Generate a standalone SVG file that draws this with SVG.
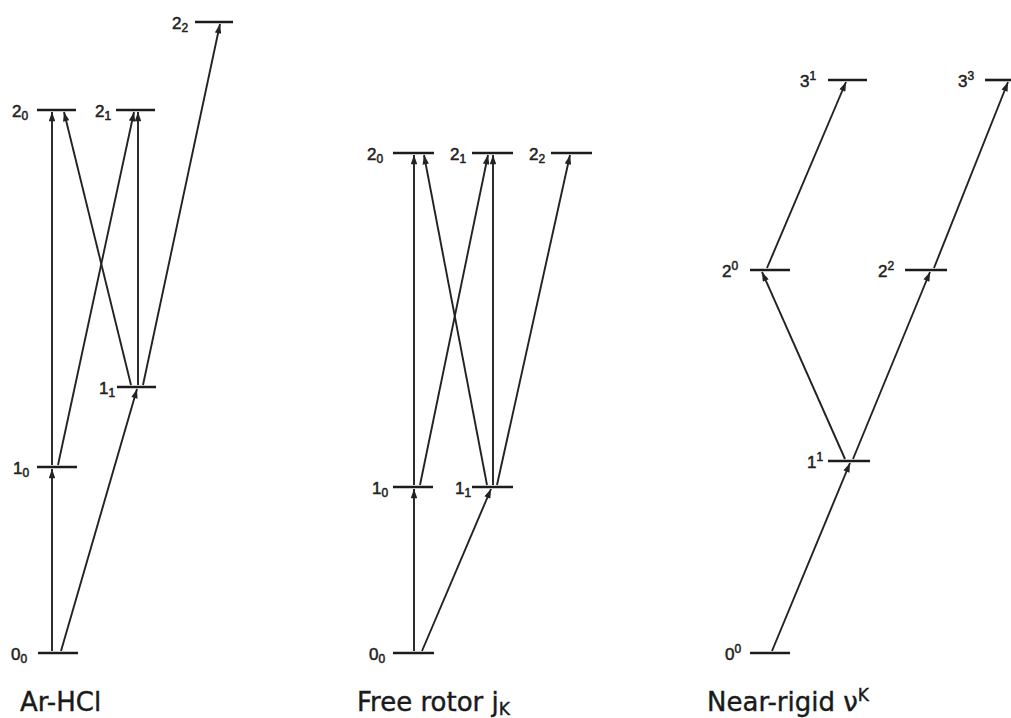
<svg xmlns="http://www.w3.org/2000/svg" width="1011" height="718" viewBox="0 0 1011 718">
<style>
.lvl{stroke:#1c1c1c;stroke-width:2.6;fill:none}
.arr{stroke:#222;stroke-width:1.9;fill:none;marker-end:url(#ah)}
.lab{font-family:"Liberation Sans",Arial,sans-serif;font-size:17px;fill:#222;stroke:#222;stroke-width:0.5}
.sm{font-size:12px}
.title{font-family:"DejaVu Sans","Liberation Sans",sans-serif;font-size:26px;fill:#1a1a1a;stroke:#1a1a1a;stroke-width:0.4}
.tsm{font-size:17px}
</style>
<defs>
<marker id="ah" viewBox="0 0 10 7" markerUnits="userSpaceOnUse" markerWidth="10" markerHeight="6.5" refX="10" refY="3.5" orient="auto">
<path d="M0,0 L10,3.5 L0,7 z" fill="#222"/>
</marker>
</defs>
<rect width="1011" height="718" fill="#fff"/>

<!-- Left panel: Ar-HCl -->
<g id="L00"><line class="lvl" x1="38" y1="653" x2="78" y2="653"/><text class="lab" x="11" y="660">0<tspan class="sm" dy="3">0</tspan></text></g>
<g id="L10"><line class="lvl" x1="37" y1="467" x2="77" y2="467"/><text class="lab" x="13" y="474">1<tspan class="sm" dy="3">0</tspan></text></g>
<g id="L11"><line class="lvl" x1="117" y1="387" x2="156" y2="387"/><text class="lab" x="99" y="394">1<tspan class="sm" dy="3">1</tspan></text></g>
<g id="L20"><line class="lvl" x1="37" y1="110" x2="76" y2="110"/><text class="lab" x="12" y="117">2<tspan class="sm" dy="3">0</tspan></text></g>
<g id="L21"><line class="lvl" x1="116" y1="110" x2="155" y2="110"/><text class="lab" x="95" y="117">2<tspan class="sm" dy="3">1</tspan></text></g>
<g id="L22"><line class="lvl" x1="195" y1="22" x2="233" y2="22"/><text class="lab" x="172" y="29">2<tspan class="sm" dy="3">2</tspan></text></g>
<text id="tL" class="title" x="20" y="711">Ar-HCl</text>

<!-- Middle panel: Free rotor -->
<g id="M00"><line class="lvl" x1="393" y1="653" x2="434" y2="653"/><text class="lab" x="369" y="660">0<tspan class="sm" dy="3">0</tspan></text></g>
<g id="M10"><line class="lvl" x1="393" y1="487" x2="433" y2="487"/><text class="lab" x="372" y="494">1<tspan class="sm" dy="3">0</tspan></text></g>
<g id="M11"><line class="lvl" x1="472" y1="487" x2="513" y2="487"/><text class="lab" x="455" y="494">1<tspan class="sm" dy="3">1</tspan></text></g>
<g id="M20"><line class="lvl" x1="393" y1="153" x2="434" y2="153"/><text class="lab" x="367" y="160">2<tspan class="sm" dy="3">0</tspan></text></g>
<g id="M21"><line class="lvl" x1="472" y1="153" x2="513" y2="153"/><text class="lab" x="450" y="160">2<tspan class="sm" dy="3">1</tspan></text></g>
<g id="M22"><line class="lvl" x1="551" y1="153" x2="592" y2="153"/><text class="lab" x="529" y="160">2<tspan class="sm" dy="3">2</tspan></text></g>
<text id="tM" class="title" x="357" y="711">Free rotor j<tspan class="tsm" dy="4">K</tspan></text>

<!-- Right panel: Near-rigid -->
<g id="R00"><line class="lvl" x1="750" y1="653" x2="790" y2="653"/><text class="lab" x="725" y="660">0<tspan class="sm" dy="-7">0</tspan></text></g>
<g id="R11"><line class="lvl" x1="828" y1="461" x2="870" y2="461"/><text class="lab" x="807" y="468">1<tspan class="sm" dy="-7">1</tspan></text></g>
<g id="R20"><line class="lvl" x1="750" y1="270" x2="790" y2="270"/><text class="lab" x="722" y="277">2<tspan class="sm" dy="-7">0</tspan></text></g>
<g id="R22"><line class="lvl" x1="905" y1="270" x2="947" y2="270"/><text class="lab" x="878" y="277">2<tspan class="sm" dy="-7">2</tspan></text></g>
<g id="R31"><line class="lvl" x1="828" y1="80" x2="867" y2="80"/><text class="lab" x="800" y="87">3<tspan class="sm" dy="-7">1</tspan></text></g>
<g id="R33"><line class="lvl" x1="985" y1="80" x2="1011" y2="80"/><text class="lab" x="958" y="87">3<tspan class="sm" dy="-7">3</tspan></text></g>
<text id="tR" class="title" x="707" y="711">Near-rigid ν<tspan class="tsm" dy="-10">K</tspan></text>

<g id="connectors">
<!-- left -->
<line class="arr" x1="52" y1="651" x2="52" y2="469"/>
<line class="arr" x1="61" y1="651" x2="137" y2="389"/>
<line class="arr" x1="52" y1="465" x2="52" y2="112"/>
<line class="arr" x1="58" y1="465" x2="134" y2="112"/>
<line class="arr" x1="131" y1="385" x2="64" y2="112"/>
<line class="arr" x1="138" y1="385" x2="138" y2="112"/>
<line class="arr" x1="143" y1="385" x2="220" y2="24"/>
<!-- middle -->
<line class="arr" x1="414" y1="651" x2="414" y2="489"/>
<line class="arr" x1="422" y1="651" x2="491" y2="489"/>
<line class="arr" x1="414" y1="485" x2="414" y2="155"/>
<line class="arr" x1="420" y1="485" x2="488" y2="155"/>
<line class="arr" x1="487" y1="485" x2="424" y2="155"/>
<line class="arr" x1="493" y1="485" x2="493" y2="155"/>
<line class="arr" x1="497" y1="485" x2="570" y2="155"/>
<!-- right -->
<line class="arr" x1="772" y1="651" x2="850" y2="463"/>
<line class="arr" x1="845" y1="459" x2="762" y2="272"/>
<line class="arr" x1="853" y1="459" x2="930" y2="272"/>
<line class="arr" x1="767" y1="268" x2="846" y2="82"/>
<line class="arr" x1="934" y1="268" x2="1008" y2="82"/>
</g>
</svg>
